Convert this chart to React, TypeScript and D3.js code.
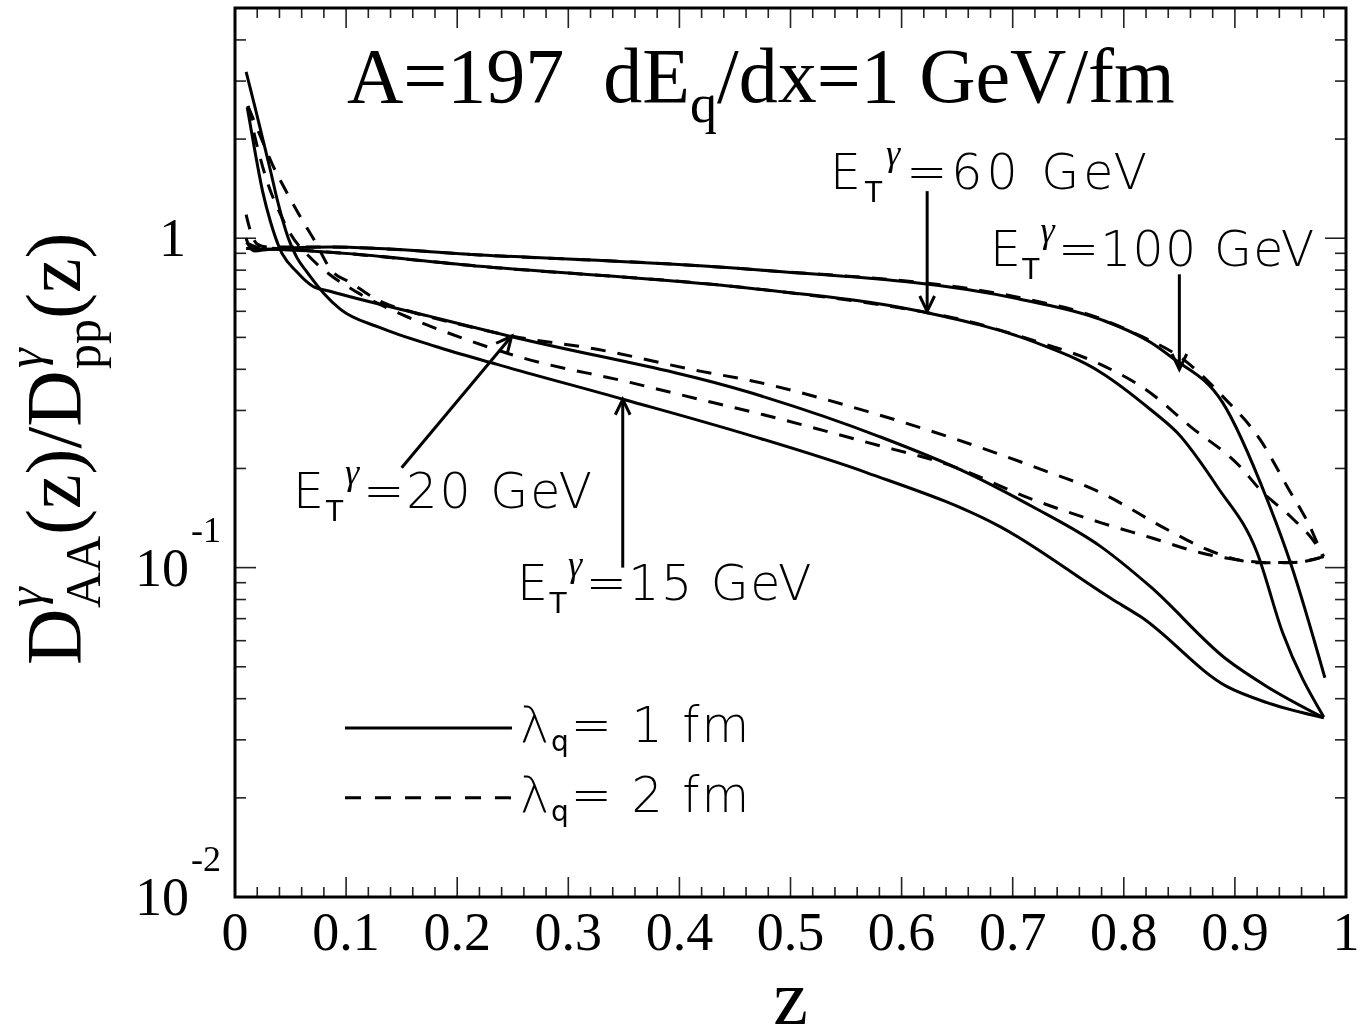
import React from "react";
import * as d3 from "d3";

type Pt = [number, number];

// ---------- data (z, D_AA/D_pp) ----------
const e15Lambda1: Pt[] = [
  [0.01, 3.2], [0.018, 2.5], [0.025, 2.0], [0.032, 1.6], [0.038, 1.31], [0.048, 1.0],
  [0.056, 0.87], [0.065, 0.788], [0.08, 0.68], [0.095, 0.608], [0.13, 0.536], [0.18, 0.47],
  [0.236, 0.414], [0.35, 0.324], [0.4635, 0.252], [0.569, 0.194], [0.689, 0.133], [0.79, 0.08],
  [0.815, 0.071], [0.893, 0.0435], [0.929, 0.0389], [0.98, 0.035],
];
const e20Lambda1: Pt[] = [
  [0.011, 2.5], [0.016, 2.0], [0.025, 1.38], [0.032, 1.12], [0.0405, 0.926], [0.056, 0.788],
  [0.07, 0.715], [0.0855, 0.69], [0.1755, 0.579], [0.2475, 0.504], [0.4635, 0.34], [0.58, 0.25],
  [0.659, 0.194], [0.718, 0.153], [0.779, 0.116], [0.824, 0.0875], [0.893, 0.0525], [0.929, 0.0435],
  [0.98, 0.035],
];
const e60Lambda1: Pt[] = [
  [0.01, 0.93], [0.04, 0.925], [0.0855, 0.907], [0.2205, 0.822], [0.4635, 0.705], [0.6166, 0.6],
  [0.718, 0.486], [0.779, 0.392], [0.824, 0.302], [0.848, 0.257], [0.884, 0.1763], [0.92, 0.111],
  [0.943, 0.0634], [0.98, 0.0352],
];
const e100Lambda1: Pt[] = [
  [0.01, 1.0], [0.0135, 0.935], [0.018, 0.915], [0.03, 0.925], [0.0855, 0.94], [0.2205, 0.89],
  [0.4635, 0.805], [0.7066, 0.653], [0.779, 0.567], [0.824, 0.483], [0.843, 0.435], [0.889, 0.317],
  [0.929, 0.161], [0.95, 0.1035], [0.981, 0.0463],
];
const e15Lambda2: Pt[] = [
  [0.0117, 2.52], [0.02, 1.9], [0.03, 1.45], [0.04, 1.2], [0.05, 1.03], [0.0675, 0.875],
  [0.0855, 0.775], [0.11, 0.685], [0.151, 0.585], [0.205, 0.497], [0.254, 0.438], [0.3555, 0.365],
  [0.43, 0.317], [0.4635, 0.298], [0.569, 0.24], [0.646, 0.203], [0.718, 0.161], [0.779, 0.137],
  [0.824, 0.1234], [0.869, 0.111], [0.902, 0.1057], [0.93, 0.1035], [0.957, 0.104], [0.98, 0.108],
];
const e20Lambda2: Pt[] = [
  [0.0117, 2.52], [0.025, 1.96], [0.0335, 1.68], [0.047, 1.37], [0.0585, 1.166], [0.072, 0.979],
  [0.0865, 0.8], [0.1035, 0.735], [0.13, 0.645], [0.16, 0.596], [0.205, 0.545], [0.25, 0.504],
  [0.326, 0.46], [0.4185, 0.395], [0.4635, 0.37], [0.569, 0.298], [0.718, 0.203], [0.779, 0.169],
  [0.839, 0.1305], [0.875, 0.1135], [0.902, 0.1057], [0.92, 0.1035], [0.95, 0.1035], [0.98, 0.108],
];
const e60Lambda2: Pt[] = [
  [0.01, 0.97], [0.02, 0.94], [0.04, 0.93], [0.0855, 0.907], [0.2205, 0.822], [0.4635, 0.705],
  [0.6166, 0.6], [0.641, 0.579], [0.718, 0.49], [0.779, 0.414], [0.821, 0.345], [0.86, 0.268],
  [0.9046, 0.2028], [0.9226, 0.1726], [0.95, 0.1429], [0.97, 0.1216], [0.98, 0.108],
];
const e100Lambda2: Pt[] = [
  [0.01, 1.18], [0.014, 1.05], [0.02, 0.96], [0.03, 0.94], [0.0855, 0.94], [0.2205, 0.89],
  [0.4635, 0.805], [0.7066, 0.66], [0.779, 0.57], [0.808, 0.518], [0.857, 0.42], [0.889, 0.331],
  [0.9226, 0.245], [0.947, 0.1763], [0.97, 0.1278], [0.979, 0.108],
];

const xTickValues = [0, 0.1, 0.2, 0.3, 0.4, 0.5, 0.6, 0.7, 0.8, 0.9, 1];
const xTickLabels = ["0", "0.1", "0.2", "0.3", "0.4", "0.5", "0.6", "0.7", "0.8", "0.9", "1"];
const yDecades = [0.01, 0.1, 1];
const yDecadeExponents = ["-2", "-1", ""];

// annotations (data coordinates)
const arrowTips: Pt[] = [[0.623, 0.6], [0.85, 0.40], [0.249, 0.504], [0.349, 0.324]];
const arrowTails: Pt[] = [[0.623, 1.39], [0.85, 0.777], [0.150, 0.201], [0.349, 0.1]];
const annotationTexts = ["=60 GeV", "=100 GeV", "=20 GeV", "=15 GeV"];
const annotationAnchors: Pt[] = [[0.5355, 1.409], [0.6796, 0.822], [0.0522, 0.1522], [0.2538, 0.0799]];
const annotationSpacing = [4, 1.2, 2, 1.5];

const legendLabels = ["= 1 fm", "= 2 fm"];

const W = 1365;
const H = 1035;
const L = 235, R = 1346, T = 8, B = 897;

const x = d3.scaleLinear().domain([0, 1]).range([L, R]);
const y = d3.scaleLog().domain([0.01, 5]).range([B, T]);

const line = d3
  .line<Pt>()
  .x((d) => x(d[0]))
  .y((d) => y(d[1]))
  .curve(d3.curveMonotoneX);

const curves = [
  { data: e15Lambda1, dashed: false },
  { data: e20Lambda1, dashed: false },
  { data: e60Lambda1, dashed: false },
  { data: e100Lambda1, dashed: false },
  { data: e15Lambda2, dashed: true },
  { data: e20Lambda2, dashed: true },
  { data: e60Lambda2, dashed: true },
  { data: e100Lambda2, dashed: true },
];

const SERIF = "'Liberation Serif', 'Times New Roman', Times, serif";
const SANS = "'DejaVu Sans', 'Liberation Sans', sans-serif";

function Arrow({ tail, tip }: { tail: Pt; tip: Pt }) {
  const x1 = x(tail[0]), y1 = y(tail[1]);
  const x2 = x(tip[0]), y2 = y(tip[1]);
  const ang = Math.atan2(y2 - y1, x2 - x1);
  const len = 17, spread = 0.45;
  const a1 = ang + Math.PI - spread, a2 = ang + Math.PI + spread;
  return (
    <g stroke="#000" strokeWidth={3} fill="none">
      <line x1={x1} y1={y1} x2={x2} y2={y2} />
      <polyline
        points={`${x2 + len * Math.cos(a1)},${y2 + len * Math.sin(a1)} ${x2},${y2} ${x2 + len * Math.cos(a2)},${y2 + len * Math.sin(a2)}`}
      />
    </g>
  );
}

function ETLabel({ anchor, text, spacing }: { anchor: Pt; text: string; spacing: number }) {
  return (
    <text
      x={x(anchor[0])}
      y={y(anchor[1])}
      fill="#000"
      fontFamily={SANS}
      fontWeight={200}
      fontSize={49}
      letterSpacing={spacing}
      style={{ whiteSpace: "pre" }}
    >
      E
      <tspan fontSize={28} dy={13} fontWeight={400}>T</tspan>
      <tspan fontSize={36} dy={-37} fontFamily={SERIF} fontStyle="italic">γ</tspan>
      <tspan fontSize={49} dy={24} dx={2}>{text}</tspan>
    </text>
  );
}

export default function App() {
  const minorX = d3.range(0, 1.0001, 0.02).filter((v) => Math.abs(v * 10 - Math.round(v * 10)) > 1e-6);
  const minorY: number[] = [];
  yDecades.forEach((d) => {
    for (let m = 2; m <= 9; m++) {
      const v = d * m;
      if (v <= 5) minorY.push(v);
    }
  });

  const legendY = [0.0326, 0.02];

  return (
    <svg
      width={W}
      height={H}
      viewBox={`0 0 ${W} ${H}`}
      style={{ position: "absolute", left: 0, top: 0, background: "#fff", willChange: "transform" }}
    >
      <rect x={0} y={0} width={W} height={H} fill="#fff" />
      <defs>
        <clipPath id="plot">
          <rect x={L} y={T} width={R - L} height={B - T} />
        </clipPath>
      </defs>

      {/* ticks */}
      <g stroke="#222" strokeWidth={1.6}>
        {xTickValues.map((v) => (
          <g key={"xM" + v}>
            <line x1={x(v)} x2={x(v)} y1={B} y2={B - 20} />
            <line x1={x(v)} x2={x(v)} y1={T} y2={T + 20} />
          </g>
        ))}
        {minorX.map((v) => (
          <g key={"xm" + v}>
            <line x1={x(v)} x2={x(v)} y1={B} y2={B - 10} />
            <line x1={x(v)} x2={x(v)} y1={T} y2={T + 10} />
          </g>
        ))}
        {yDecades.map((v) => (
          <g key={"yM" + v}>
            <line x1={L} x2={L + 21} y1={y(v)} y2={y(v)} />
            <line x1={R} x2={R - 21} y1={y(v)} y2={y(v)} />
          </g>
        ))}
        {minorY.map((v) => (
          <g key={"ym" + v}>
            <line x1={L} x2={L + 11} y1={y(v)} y2={y(v)} />
            <line x1={R} x2={R - 11} y1={y(v)} y2={y(v)} />
          </g>
        ))}
      </g>

      {/* curves */}
      <g clipPath="url(#plot)" fill="none" stroke="#000" strokeWidth={3} strokeLinejoin="round">
        {curves.map((c, i) => (
          <path key={i} d={line(c.data) || ""} strokeDasharray={c.dashed ? "15,12" : undefined} />
        ))}
      </g>

      {/* frame */}
      <rect x={L} y={T} width={R - L} height={B - T} fill="none" stroke="#000" strokeWidth={3} />

      {/* x tick labels */}
      <g fontFamily={SERIF} fontSize={54} textAnchor="middle">
        {xTickValues.map((v, i) => (
          <text key={"xl" + v} x={x(v)} y={950}>
            {xTickLabels[i]}
          </text>
        ))}
      </g>

      {/* y tick labels */}
      <g fontFamily={SERIF}>
        {yDecades.map((v, i) =>
          yDecadeExponents[i] === "" ? (
            <text key={"yl" + v} x={186} y={y(v) + 18} fontSize={54} textAnchor="end">
              1
            </text>
          ) : (
            <g key={"yl" + v}>
              <text x={189} y={y(v) + 18} fontSize={54} textAnchor="end">
                10
              </text>
              <text x={191} y={y(v) - 26} fontSize={36}>
                {yDecadeExponents[i]}
              </text>
            </g>
          )
        )}
      </g>

      {/* axis titles */}
      <text x={(L + R) / 2} y={1024} fontFamily={SERIF} fontSize={78} textAnchor="middle">
        z
      </text>
      <g transform="translate(80,665) rotate(-90)" fontFamily={SERIF} fontSize={78}>
        <text x={0} y={0}>D</text>
        <text x={58} y={-38} fontSize={50} fontStyle="italic">γ</text>
        <text x={57} y={20} fontSize={50}>AA</text>
        <text x={130} y={0}>(z)/D</text>
        <text x={297} y={-38} fontSize={50} fontStyle="italic">γ</text>
        <text x={296} y={20} fontSize={50}>pp</text>
        <text x={346} y={0}>(z)</text>
      </g>

      {/* title */}
      <text x={347} y={102} fontFamily={SERIF} fontSize={78}>
        A=197
        <tspan dx={39}>dE</tspan>
        <tspan fontSize={54} dy={20}>q</tspan>
        <tspan dy={-20}>/dx=1 GeV/fm</tspan>
      </text>

      {/* annotations */}
      {arrowTips.map((tip, i) => (
        <Arrow key={"ar" + i} tip={tip} tail={arrowTails[i]} />
      ))}
      {annotationAnchors.map((a, i) => (
        <ETLabel key={"lab" + i} anchor={a} text={annotationTexts[i]} spacing={annotationSpacing[i]} />
      ))}

      {/* legend */}
      {legendY.map((v, i) => (
        <g key={"lg" + i}>
          <line
            x1={x(0.099)}
            x2={x(0.2493)}
            y1={y(v)}
            y2={y(v)}
            stroke="#000"
            strokeWidth={3}
            strokeDasharray={i === 1 ? "16,14" : undefined}
          />
          <text
            x={x(0.2565)}
            y={y(v) + 14}
            fill="#000"
            fontFamily={SANS}
            fontWeight={200}
            fontSize={49}
            letterSpacing={2}
            style={{ whiteSpace: "pre" }}
          >
            λ
            <tspan fontSize={28} dy={9} fontWeight={400}>q</tspan>
            <tspan dy={-9}>{legendLabels[i]}</tspan>
          </text>
        </g>
      ))}
    </svg>
  );
}
